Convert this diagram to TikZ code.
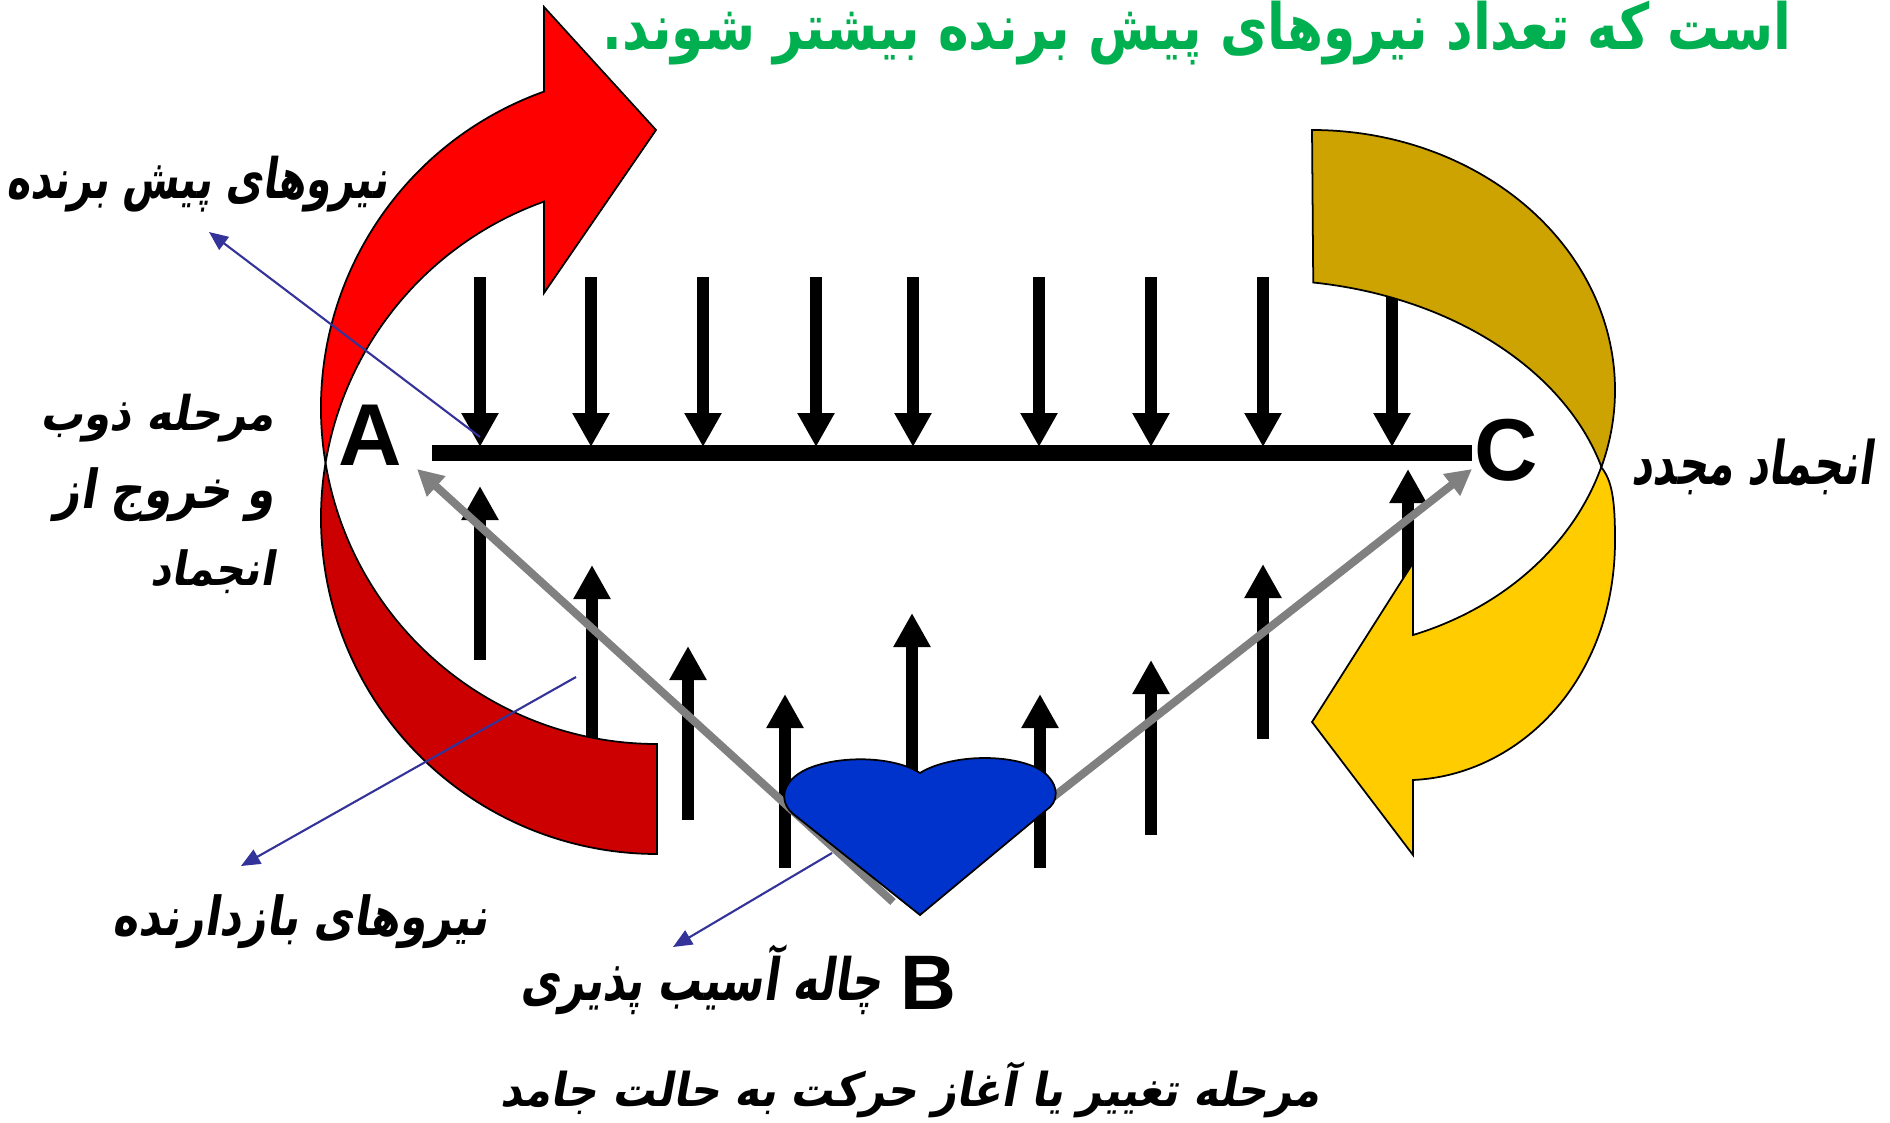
\documentclass[tikz,border=0pt]{standalone}
\usepackage{fontspec}
\setmainfont{Liberation Sans}
\newfontfamily\fatext[Script=Arabic]{DejaVu Sans Bold}
\newfontfamily\faital[Script=Arabic,FakeSlant=0.2]{DejaVu Sans Bold}
\TeXXeTstate=1
\usetikzlibrary{arrows.meta,positioning}
\definecolor{frontred}{HTML}{FF0000}
\definecolor{backred}{HTML}{CC0000}
\definecolor{backgold}{HTML}{CCA300}
\definecolor{frontgold}{HTML}{FFCC00}
\definecolor{heartblue}{HTML}{0033CC}
\definecolor{pointblue}{HTML}{333399}
\definecolor{titlegreen}{HTML}{00B050}
% text fitted to a width and total height
\newcommand{\fafit}[3]{\resizebox*{#1}{#2}{#3}}

\begin{document}
\begin{tikzpicture}[
  x=0.1mm, y=-0.1mm,
  force/.style={line width=1.2mm, -{Triangle[width=3.5mm,length=3.4mm]}},
  route/.style={line width=0.8mm, draw=gray, -{Triangle[width=2.6mm,length=2.6mm]}},
  pointer/.style={line width=0.6pt, draw=pointblue, -{Triangle[width=1.6mm,length=1.9mm]}},
  band/.style={draw=black, line width=0.5pt},
  pointname/.style={font=\bfseries\fontsize{25}{25}\selectfont, inner sep=0pt},
  falabel/.style={font=\faital\fontsize{16}{22}\selectfont, inner sep=0pt}
]
\useasboundingbox (0,0) rectangle (1890,1122);

% Force arrows
\foreach \x in {480,591,703,816,913,1039,1151,1263,1392}
  \draw[force] (\x,277) -- (\x,447);
\foreach \x/\b/\t in {480/660/486, 592/745/565, 688/820/646, 785/868/694, 912/790/613,
                      1040/868/694, 1151/835/660, 1263/739/564, 1408/600/469}
  \draw[force] (\x,\b) -- (\x,\t);

% Level line
\coordinate (barL) at (432,453);
\coordinate (barR) at (1472,453);
\draw[line width=1.6mm] (barL) -- (barR);

% Left curved arrow
\filldraw[band, fill=frontred] (325.5,463) arc[start angle=170.58, end angle=250.35, radius=336]
  -- (544,7) -- (656,130) -- (544,293) -- (544,201.6)
  arc[start angle=250.35, end angle=189.42, radius=336] -- cycle;
\filldraw[band, fill=backred] (325.5,463) arc[start angle=189.42, end angle=90, radius=336]
  -- (657,744) arc[start angle=90, end angle=170.58, radius=336] -- cycle;

% Right curved arrow
\filldraw[band, fill=backgold] (1312,130) arc[start angle=270, end angle=377.2, x radius=303, y radius=260]
  arc[start angle=-15.47, end angle=-81.8, x radius=351, y radius=255] -- cycle;
\filldraw[band, fill=frontgold] (1601,467) .. controls (1612,480) and (1615,500) .. (1615,540)
  .. controls (1615,680) and (1520,775) .. (1413,780)
  -- (1413,855) -- (1312,722) -- (1413,563) -- (1413,635)
  arc[start angle=70.5, end angle=17.2, x radius=303, y radius=260] -- cycle;

% Points
\node[pointname] (A) at (370,435) {A};
\node[pointname] (C) at (1506,450) {C};
\node[pointname, font=\bfseries\fontsize{22}{22}\selectfont] (B) at (928,983) {B};

% Paths to A and C
\coordinate (pitL) at (893,902);
\coordinate (pitR) at (960,870);
\coordinate (toA) at (417,469);
\coordinate (toC) at (1472,469);
\draw[route] (pitL) -- (toA);
\draw[route] (pitR) -- (toC);

% Pit
\filldraw[band, fill=heartblue] (920,915) -- (792,813)
  .. controls (778,800) and (782,778) .. (812,767)
  .. controls (845,755) and (895,757) .. (920,773)
  .. controls (945,757) and (1000,752) .. (1035,767)
  .. controls (1058,778) and (1060,798) .. (1050,807) -- cycle;

% Labels
\node[anchor=north east, font=\fatext\fontsize{24}{24}\selectfont, text=titlegreen, inner sep=0pt] (title) at (1792,0)
  {\fafit{118.9mm}{6.4mm}{\beginR است که تعداد نیروهای پیش برنده بیشتر شوند.\endR}};
\node[falabel] (driving) at (197,184) {\fafit{38.1mm}{5.6mm}{\beginR نیروهای پیش برنده\endR}};
\node[falabel, align=right, anchor=east] (melt) at (275,494)
  {\fafit{23.4mm}{4.8mm}{\beginR مرحله ذوب\endR}\\
   \fafit{22mm}{5.4mm}{\beginR و خروج از\endR}\\
   \fafit{12.4mm}{4.4mm}{\beginR انجماد\endR}};
\node[falabel] (refreeze) at (1752,467) {\fafit{24.1mm}{5.6mm}{\beginR انجماد مجدد\endR}};
\node[falabel] (restrain) at (300,922) {\fafit{37.5mm}{5.4mm}{\beginR نیروهای بازدارنده\endR}};
\node[falabel] (pit) at (701,980) {\fafit{36.2mm}{7mm}{\beginR چاله آسیب پذیری\endR}};
\node[falabel] (change) at (910,1090) {\fafit{82mm}{5.6mm}{\beginR مرحله تغییر یا آغاز حرکت به حالت جامد\endR}};

% Pointers
\coordinate (p1) at (480,437);
\coordinate (p1e) at (209,232);
\coordinate (p2) at (576,677);
\coordinate (p2e) at (241,866);
\coordinate (p3) at (832,853);
\coordinate (p3e) at (673,947);
\draw[pointer] (p1) -- (p1e);
\draw[pointer] (p2) -- (p2e);
\draw[pointer] (p3) -- (p3e);

\end{tikzpicture}
\end{document}
